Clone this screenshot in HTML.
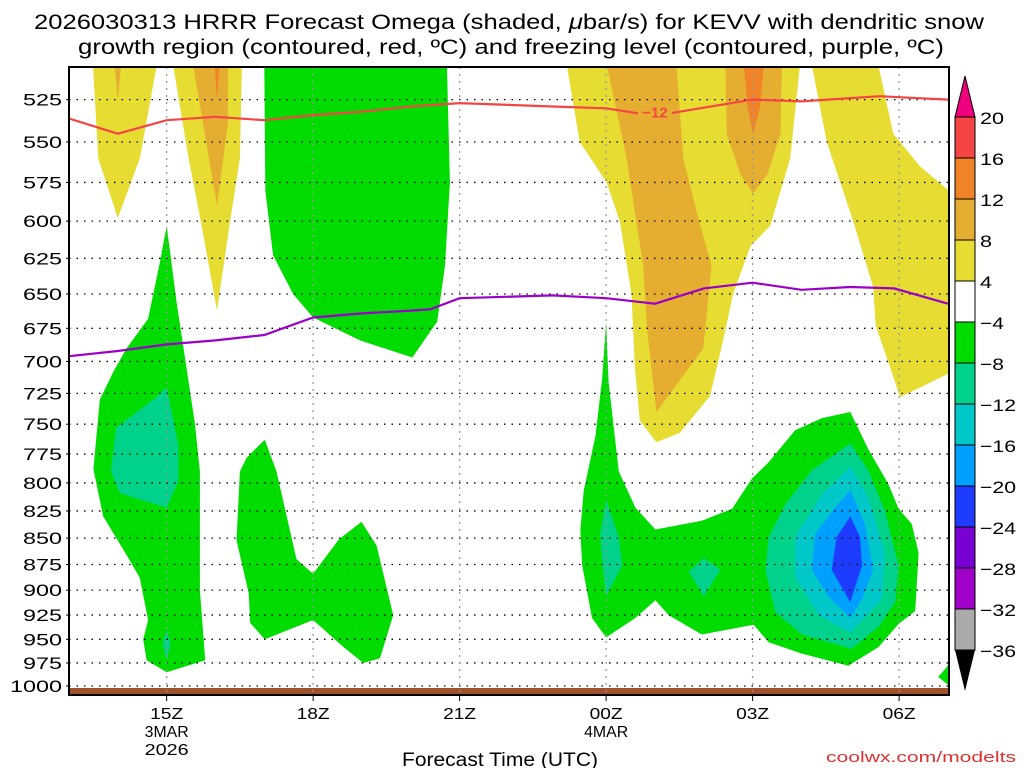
<!DOCTYPE html>
<html><head><meta charset="utf-8"><style>
body{margin:0;background:#fff;font-family:"Liberation Sans",sans-serif}
svg{display:block}
</style></head><body>
<svg id="chart" width="1024" height="768" xmlns="http://www.w3.org/2000/svg">
<text x="509" y="29" font-size="21" text-anchor="middle" textLength="950" lengthAdjust="spacingAndGlyphs">2026030313 HRRR Forecast Omega (shaded, <tspan font-style="italic">μ</tspan>bar/s) for KEVV with dendritic snow</text>
<text x="511" y="54" font-size="21" text-anchor="middle" textLength="866" lengthAdjust="spacingAndGlyphs">growth region (contoured, red, ºC) and freezing level (contoured, purple, ºC)</text>
<defs><clipPath id="pc"><rect x="69" y="67" width="880" height="628"/></clipPath></defs>
<g id="fills" clip-path="url(#pc)"></g>
<g id="grid"></g>
<g id="lines" clip-path="url(#pc)"></g>
<rect x="69" y="67" width="880" height="628" fill="none" stroke="#000" stroke-width="2"/>
<g id="axes"></g>
<g id="cbar"></g>
<text x="500" y="766" font-size="19" text-anchor="middle" textLength="196" lengthAdjust="spacingAndGlyphs">Forecast Time (UTC)</text>
<text x="826" y="762" font-size="15" textLength="190" lengthAdjust="spacingAndGlyphs" fill="#e03030">coolwx.com/modelts</text>
</svg>
<script>
const pLevels=[525,550,575,600,625,650,675,700,725,750,775,800,825,850,875,900,925,950,975,1000];
const xTickHours=[15,18,21,24,27,30];
const xTickLabels=[["15Z","3MAR","2026"],["18Z"],["21Z"],["00Z","4MAR"],["03Z"],["06Z"]];
const cbLevels=[20,16,12,8,4,-4,-8,-12,-16,-20,-24,-28,-32,-36];
const cbColors=["#f44444","#f08228","#e6ae30","#e6dc32","#ffffff","#00dc00","#00d28c","#00c8c8","#00a0ff","#1e3cff","#7800d2","#a000c8","#aaaaaa"];
const yellowA=[[13.49,505],[14.8,505],[14.45,560],[14.0,598],[13.6,560]];
const orangeA=[[13.93,505],[14.07,505],[14.0,525]];
const yellowB=[[15.13,505],[16.54,505],[16.5,560],[16.3,600],[16.03,662],[15.7,600],[15.45,560]];
const orangeB=[[15.54,505],[16.26,505],[16.25,540],[16.03,590],[15.75,540]];
const redB=[[15.98,505],[16.08,505],[16.03,525]];
const yellowC=[[23.19,505],[27.97,505],[27.77,560],[27.36,603],[26.95,617],[26.6,650],[26.39,685],[26.13,727],[25.51,757],[25.03,765],[24.69,747],[24.59,705],[24.52,650],[24.28,600],[24.01,575],[23.46,550]];
const orangeC1=[[24.01,505],[25.44,505],[25.58,560],[25.92,602],[26.16,630],[25.99,690],[25.03,740],[24.83,673],[24.76,630],[24.42,560]];
const orangeC2=[[26.44,505],[27.6,505],[27.57,545],[27.3,570],[27.01,582],[26.75,570],[26.47,545]];
const darkOrangeC=[[26.82,505],[27.23,505],[27.15,530],[27.01,545],[26.9,530]];
const yellowD=[[28.21,505],[29.57,505],[29.88,545],[30.43,565],[31.2,585],[31.2,706],[30.02,728],[29.82,705],[29.52,673],[29.47,645],[29.06,600],[28.52,550]];
const greenTop=[[17.0,505],[20.74,505],[20.8,575],[20.7,630],[20.54,670],[20.03,697],[18.96,684],[18.0,667],[17.59,650],[17.18,623],[17.02,580]];
const greenLeft=[[15.0,603],[15.2,655],[15.58,750],[15.68,790],[15.68,900],[15.79,972],[15.0,985],[14.59,972],[14.52,950],[14.62,930],[14.45,888],[14.18,866],[13.7,830],[13.5,788],[13.63,730],[13.91,708],[14.18,690],[14.62,668],[14.86,628]];
const tealLeft=[[15.0,720],[15.24,768],[15.24,798],[15.0,822],[14.04,809],[13.86,790],[13.96,753],[14.76,729]];
const tealLeft2=[[15.0,940],[15.08,955],[15.0,972],[14.92,955]];
const greenMid=[[17.01,763],[17.25,790],[17.66,870],[18.0,884],[18.53,851],[18.99,835],[19.3,857],[19.64,925],[19.37,970],[19.03,975],[18.62,958],[18.0,930],[17.01,950],[16.71,933],[16.68,903],[16.43,852],[16.5,790],[16.64,778]];
const greenRight=[[24.0,670],[24.05,716],[24.26,790],[24.6,822],[25.01,842],[25.96,834],[26.58,823],[26.99,796],[27.33,782],[27.87,755],[28.42,745],[29.0,740],[29.37,771],[29.78,801],[29.99,823],[30.26,837],[30.4,864],[30.33,921],[29.99,934],[29.58,958],[28.96,978],[28.01,965],[27.33,953],[27.02,935],[25.96,945],[25.28,925],[25.01,910],[24.6,928],[24.0,948],[23.71,928],[23.51,876],[23.47,843],[23.54,807],[23.78,760],[23.92,713]];
const tealRight=[[29.0,766],[29.37,789],[29.71,825],[29.99,876],[29.92,912],[29.58,937],[29.03,960],[28.01,945],[27.46,922],[27.26,880],[27.33,849],[27.67,819],[28.21,789]];
const cyanRight=[[29.0,786],[29.37,813],[29.71,864],[29.65,909],[29.0,943],[28.35,925],[27.87,887],[27.87,849],[28.42,810]];
const blueRight=[[29.0,806],[29.3,837],[29.47,880],[29.24,909],[29.0,928],[28.55,906],[28.21,880],[28.28,846],[28.69,822]];
const darkBlueRight=[[29.0,830],[29.2,849],[29.24,876],[29.0,912],[28.62,880],[28.72,849]];
const tealSmall1=[[24.0,815],[24.26,849],[24.33,876],[24.0,906],[23.92,873],[23.88,846]];
const tealSmall2=[[26.0,869],[26.34,880],[26.0,906],[25.69,882]];
const greenCorner=[[31.1,972],[30.8,990],[31.1,1003]];
const isoHours=[13,14,15,16,17,18,19,20,21,22.9,24,24.67,25.29,27,28,29.6,31];
const isoM12=[536,545,537,535,537,534,532,529,527,529,530,533,533,525,526,523,525];
const frzHours=[13,14,15,16,17,18,19,20,20.4,21,22.9,24,25,26,27,28,29,29.9,31];
const frzLevel=[696,692,687,684,680,667,664,662,661,653,651,653,657,646,642,647,645,646,657];

const X=h=>69+(h-13)*48.83;
const Y=p=>686-910*Math.log(1000/p);
const NS="http://www.w3.org/2000/svg";
function mk(tag,attrs,parent){const e=document.createElementNS(NS,tag);for(const k in attrs)e.setAttribute(k,attrs[k]);parent.appendChild(e);return e;}
const fillsG=document.getElementById('fills');
const regions=[[yellowA,3,'yellow-region-a'],[orangeA,2,'orange-region-a'],[yellowB,3,'yellow-region-b'],[orangeB,2,'orange-region-b'],[redB,1,'dark-orange-region-b'],
[yellowC,3,'yellow-region-c'],[orangeC1,2,'orange-region-c1'],[orangeC2,2,'orange-region-c2'],[darkOrangeC,1,'dark-orange-region-c'],[yellowD,3,'yellow-region-d'],
[greenTop,5,'green-region-top'],[greenLeft,5,'green-region-left'],[tealLeft,6,'teal-region-left'],[tealLeft2,6,'teal-region-left-small'],[greenMid,5,'green-region-mid'],
[greenRight,5,'green-region-right'],[tealSmall1,6,'teal-region-small1'],[tealSmall2,6,'teal-region-small2'],[tealRight,6,'teal-region-right'],[cyanRight,7,'cyan-region-right'],
[blueRight,8,'blue-region-right'],[darkBlueRight,9,'dark-blue-region-right'],[greenCorner,5,'green-region-corner']];
regions.forEach(([pts,ci,name])=>{
  const el=mk('polygon',{points:pts.map(q=>X(q[0]).toFixed(1)+','+Y(q[1]).toFixed(1)).join(' '),fill:cbColors[ci]},fillsG);
  
  
});
const ground=mk('rect',{x:69,y:688,width:880,height:7,fill:'#a0522d'},fillsG);


const gridG=document.getElementById('grid'), axesG=document.getElementById('axes');
pLevels.forEach(p=>{
  const y=Y(p);
  const gl=mk('line',{x1:69,x2:949,y1:y,y2:y,stroke:'#000','stroke-dasharray':'1.5 6',"stroke-width":1.3},gridG);
  
  
  const s=String(p);
  const t=mk('text',{x:62,y:y+6,'font-size':17,'text-anchor':'end',textLength:s.length*13,lengthAdjust:'spacingAndGlyphs'},axesG);t.textContent=s;
  
  
  mk('line',{x1:66,x2:69,y1:y,y2:y,stroke:'#000'},axesG);
});
xTickHours.forEach((h,i)=>{
  const x=X(h);
  const gl=mk('line',{x1:x,x2:x,y1:67,y2:695,stroke:'#999','stroke-dasharray':'2 5',"stroke-width":1.3},gridG);
  
  
  mk('line',{x1:x,x2:x,y1:695,y2:701,stroke:'#000'},axesG);
  xTickLabels[i].forEach((s,j)=>{
    const t=mk('text',{x:x,y:719+j*18,'font-size':16,'text-anchor':'middle',textLength:s.length*11,lengthAdjust:'spacingAndGlyphs'},axesG);t.textContent=s;
    
    
  });
});
const linesG=document.getElementById('lines');
function pl(hs,ps,col,name){
  const el=mk('polyline',{points:hs.map((h,i)=>X(h).toFixed(1)+','+Y(ps[i]).toFixed(1)).join(' '),fill:'none',stroke:col,'stroke-width':2.2},linesG);
  
  
}
pl(isoHours,isoM12,'#f44444','dgz-minus12-contour');
pl(frzHours,frzLevel,'#9a00c8','freezing-level-contour');
const lx=X(25.0), ly=Y(532);
mk('rect',{x:lx-17,y:ly-9,width:34,height:17,fill:'#e6ae30'},linesG);
const lab=mk('text',{x:lx,y:ly+6,'font-size':15,'font-weight':'bold','text-anchor':'middle',fill:'#f44444'},linesG);lab.textContent='−12';


const cbG=document.getElementById('cbar');const bx=955,bw=20,cbTop=117,bh=41;
const ta=mk('polygon',{points:`${bx},${cbTop} ${bx+bw},${cbTop} ${bx+bw/2},${cbTop-41}`,fill:'#f0007e',stroke:'#000'},cbG);


cbColors.forEach((c,i)=>{
  const r=mk('rect',{x:bx,y:cbTop+i*bh,width:bw,height:bh,fill:c,stroke:'#000','stroke-width':1},cbG);
  
  
});
const cbBot=cbTop+cbColors.length*bh;
const ba=mk('polygon',{points:`${bx},${cbBot} ${bx+bw},${cbBot} ${bx+bw/2},${cbBot+41}`,fill:'#000'},cbG);


cbLevels.forEach((v,i)=>{
  const s=v<0?'−'+(-v):String(v);
  const t=mk('text',{x:980,y:cbTop+i*bh+7,'font-size':17,textLength:s.length*12,lengthAdjust:'spacingAndGlyphs'},cbG);
  t.textContent=s;
  
  
});
</script>
</body></html>
